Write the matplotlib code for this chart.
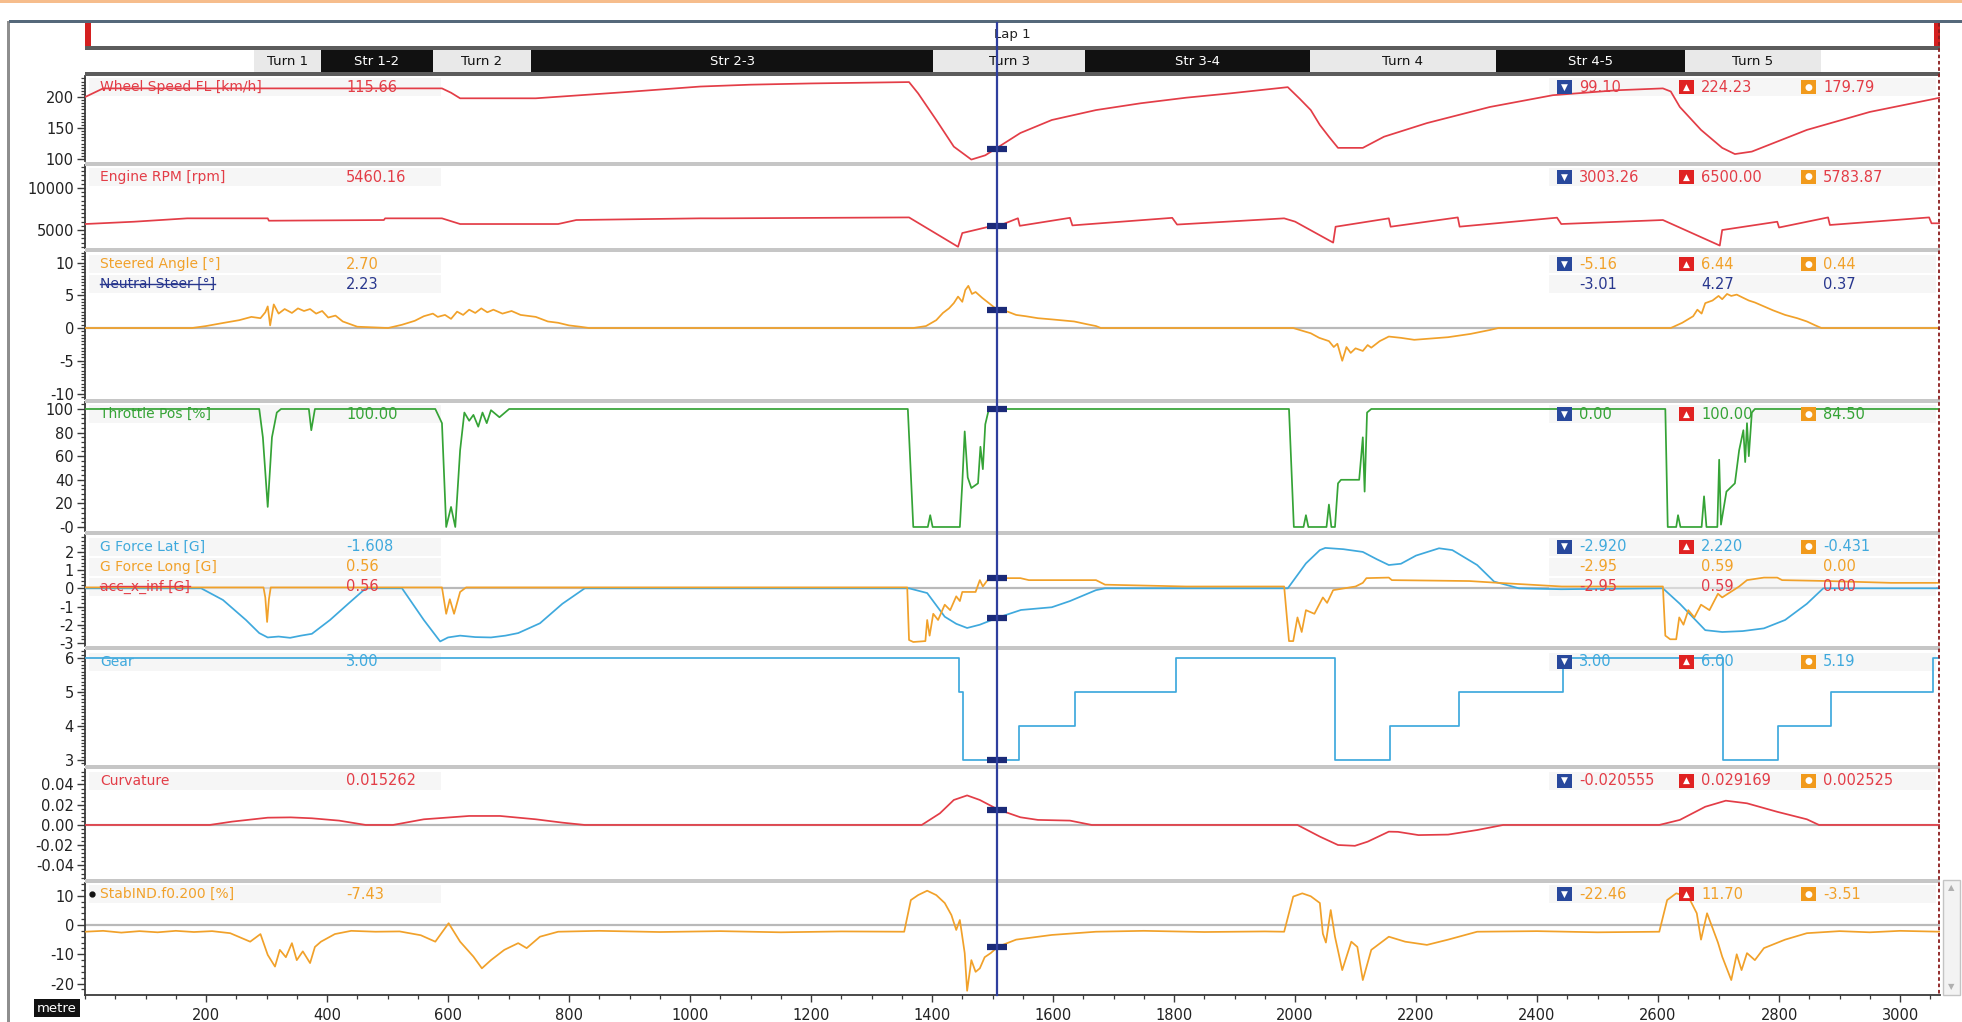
import matplotlib
matplotlib.use("Agg")
import matplotlib.pyplot as plt
import matplotlib.transforms as mtransforms
from matplotlib.patches import Rectangle
from matplotlib.lines import Line2D
from matplotlib.ticker import AutoMinorLocator, MultipleLocator

plt.rcParams['font.family'] = ['DejaVu Sans']
plt.rcParams['axes.unicode_minus'] = False

# ------------------------------------------------------------------ data
dist_range = [0, 3066]
cursor_dist = 1508
lap_name = "Lap 1"

segment_names = ["Turn 1", "Str 1-2", "Turn 2", "Str 2-3", "Turn 3", "Str 3-4", "Turn 4", "Str 4-5", "Turn 5"]
segment_start = [279, 390, 575, 737, 1402, 1653, 2024, 2332, 2645]
segment_end = [390, 575, 737, 1402, 1653, 2024, 2332, 2645, 2869]
segment_is_straight = [False, True, False, True, False, True, False, True, False]

speed_x = [0, 30, 590, 605, 620, 745, 893, 1017, 1100, 1200, 1362, 1377, 1407, 1436, 1465, 1488, 1509,
           1546, 1598, 1671, 1745, 1820, 1893, 1988, 2008, 2026, 2041, 2056, 2071, 2112, 2147, 2218, 2322,
           2426, 2532, 2608, 2621, 2636, 2671, 2706, 2727, 2755, 2846, 2950, 3066]
speed_y = [200, 214, 214, 207, 198, 198, 208, 217, 220, 222, 224.2, 206, 163, 120, 99.1, 106, 119,
           142, 163, 179, 190, 199, 206, 216, 197, 179, 155, 136, 118, 118, 136, 158, 184,
           203, 211, 214, 209, 184, 147, 118, 108, 112, 147, 176, 199]

rpm_x = [0, 81, 169, 302, 304, 494, 496, 590, 620, 782, 812, 1017, 1051, 1362, 1443, 1450, 1494, 1509,
         1542, 1545, 1628, 1632, 1797, 1805, 1982, 2000, 2063, 2067, 2155, 2158, 2269, 2272, 2433, 2440,
         2608, 2702, 2706, 2797, 2800, 2881, 2884, 3048, 3052, 3066]
rpm_y = [5714, 5988, 6390, 6390, 6107, 6190, 6390, 6390, 5714, 5714, 6190, 6390, 6390, 6500, 3003, 4640, 5393, 5460,
         6400, 5500, 6450, 5550, 6450, 5650, 6390, 6000, 3500, 5393, 6390, 5393, 6500, 5400, 6470, 5714,
         6190, 3150, 5000, 5988, 5300, 6500, 5600, 6500, 5800, 5800]

steer_x = [0, 177, 200, 230, 255, 275, 290, 298, 302, 306, 312, 320, 330, 342, 352, 362, 372, 382, 392,
           402, 414, 426, 438, 450, 501, 524, 545, 560, 575, 583, 595, 605, 615, 625, 635, 645, 655, 665,
           675, 690, 705, 720, 745, 765, 782, 800, 818, 833,
           1369, 1390, 1407, 1418, 1428, 1436, 1443, 1450, 1455, 1460, 1466, 1472, 1483, 1494, 1509,
           1525, 1539, 1555, 1575, 1600, 1635, 1655, 1671, 1679,
           1997, 2015, 2026, 2040, 2056, 2064, 2070, 2078, 2085, 2092, 2100, 2112, 2120, 2126, 2140,
           2155, 2175, 2197, 2225, 2253, 2290, 2322, 2336,
           2621, 2640, 2658, 2665, 2672, 2678, 2690, 2700, 2706, 2714, 2721, 2730, 2741, 2750, 2760,
           2775, 2790, 2810, 2830, 2846, 2860, 2870, 3066]
steer_y = [0, 0, 0.3, 0.8, 1.2, 1.7, 1.5, 2.4, 3.3, 0.4, 3.6, 2.2, 2.9, 2.3, 3.0, 2.6, 2.9, 2.2, 2.6,
           1.6, 1.9, 1.0, 0.6, 0.2, 0, 0.5, 1.1, 1.8, 2.2, 1.7, 2.0, 1.4, 2.5, 2.0, 2.8, 2.3, 3.0, 2.4,
           2.8, 2.2, 2.6, 2.0, 1.7, 1.0, 0.8, 0.4, 0.2, 0,
           0, 0.3, 1.2, 2.3, 3.0, 3.8, 4.8, 4.0, 5.8, 6.44, 5.2, 5.5, 4.6, 3.8, 2.7,
           2.5, 2.0, 1.8, 1.5, 1.3, 1.0, 0.6, 0.3, 0,
           0, -0.5, -0.8, -1.5, -2.0, -2.9, -2.4, -5.0, -2.9, -3.8, -3.1, -3.5, -2.6, -3.0, -2.0,
           -1.3, -1.5, -1.8, -1.6, -1.4, -0.9, -0.3, 0,
           0, 0.8, 1.8, 2.8, 2.2, 3.8, 4.2, 4.9, 4.4, 5.2, 4.9, 5.1, 4.6, 4.2, 3.9,
           3.3, 2.7, 2.0, 1.5, 1.0, 0.4, 0, 0]

throttle_x = [0, 288, 294, 302, 309, 317, 324, 370, 374, 380, 579, 590, 597, 605, 612, 620, 627, 635,
              642, 650, 657, 664, 671, 685, 701, 1360, 1369, 1393, 1397, 1401, 1446, 1450, 1454, 1459,
              1465, 1476, 1480, 1484, 1488, 1494, 1990, 1998, 2014, 2018, 2022, 2052, 2056, 2060, 2066,
              2071, 2076, 2106, 2112, 2115, 2119, 2126, 2612, 2616, 2630, 2633, 2637, 2672, 2676, 2680,
              2698, 2701, 2704, 2713, 2727, 2734, 2741, 2744, 2747, 2750, 2755, 2760, 3066]
throttle_y = [100, 100, 76, 17, 76, 97, 100, 100, 82, 100, 100, 88, 0, 17, 0, 65, 97, 90,
              95, 85, 97, 88, 99, 93, 100, 100, 0, 0, 10, 0, 0, 37, 81, 42,
              33, 37, 68, 49, 87, 100, 100, 0, 0, 10, 0, 0, 19, 0, 0,
              37, 40, 40, 76, 30, 97, 100, 100, 0, 0, 10, 0, 0, 26, 0,
              0, 57, 2, 30, 37, 65, 82, 55, 88, 60, 97, 100, 100]

glat_x = [0, 192, 228, 266, 288, 302, 320, 339, 357, 375, 405, 435, 464, 524, 560, 587, 600, 620, 645,
          671, 695, 716, 752, 789, 826, 1362, 1392, 1421, 1440, 1458, 1479, 1509, 1547, 1598, 1628, 1671,
          1686, 1988, 2018, 2041, 2050, 2080, 2112, 2135, 2155, 2175, 2200, 2238, 2260, 2301, 2329, 2370,
          2440, 2608, 2636, 2678, 2706, 2740, 2775, 2810, 2846, 2873, 3066]
glat_y = [0, 0, -0.64, -1.74, -2.46, -2.7, -2.65, -2.72, -2.6, -2.5, -1.74, -0.85, 0, 0, -1.74, -2.92, -2.7, -2.6, -2.68,
          -2.7, -2.6, -2.46, -1.92, -0.85, 0, 0, -0.26, -1.56, -1.95, -2.18, -2.0, -1.608, -1.19, -1.04, -0.7, -0.1,
          0, 0, 1.37, 2.1, 2.22, 2.15, 2.0, 1.6, 1.28, 1.35, 1.8, 2.2, 2.1, 1.28, 0.37, 0,
          -0.05, 0, -0.85, -2.3, -2.4, -2.35, -2.2, -1.74, -0.85, 0, 0]

glong_x = [0, 295, 298, 301, 304, 307, 590, 597, 603, 610, 620, 630, 1359, 1362, 1369, 1389, 1392, 1396,
           1402, 1410, 1421, 1430, 1440, 1446, 1450, 1472, 1479, 1484, 1494, 1546, 1560, 1671, 1686, 1820,
           1982, 1990, 1997, 2004, 2011, 2018, 2032, 2046, 2053, 2063, 2100, 2112, 2118, 2155, 2160, 2288,
           2336, 2441, 2608, 2612, 2620, 2630, 2635, 2642, 2650, 2660, 2671, 2685, 2699, 2706, 2734, 2747,
           2775, 2797, 2805, 2881, 2985, 3066]
glong_y = [0.05, 0.05, -0.5, -1.85, -0.6, 0.05, 0.05, -1.4, -0.6, -1.4, -0.2, 0.05, 0.05, -2.84, -2.95, -2.9, -1.74, -2.6,
           -1.4, -1.74, -0.9, -1.2, -0.44, -0.7, -0.2, -0.2, 0.45, 0.1, 0.56, 0.56, 0.45, 0.45, 0.2, 0.1,
           0.1, -2.9, -2.9, -1.6, -2.4, -1.2, -1.4, -0.5, -0.8, -0.1, 0.1, 0.3, 0.56, 0.59, 0.45, 0.4,
           0.3, 0.1, 0.1, -2.6, -2.8, -2.8, -1.6, -2.0, -1.2, -1.6, -0.9, -1.2, -0.3, -0.5, 0.1, 0.45,
           0.59, 0.59, 0.45, 0.4, 0.3, 0.3]

gear_x = [0, 1445, 1452, 1544, 1637, 1803, 2066, 2157, 2271, 2443, 2707, 2799, 2886, 3054, 3066]
gear_y = [6, 5, 3, 4, 5, 6, 3, 4, 5, 6, 3, 4, 5, 6, 6]

curv_x = [0, 206, 243, 302, 340, 375, 420, 464, 509, 560, 635, 686, 745, 789, 826, 1383, 1413, 1436, 1458,
          1479, 1509, 1546, 1575, 1628, 1664, 2004, 2041, 2071, 2099, 2120, 2155, 2170, 2204, 2253, 2301,
          2344, 2602, 2636, 2678, 2712, 2747, 2797, 2846, 2866, 3066]
curv_y = [0, 0, 0.0033, 0.0072, 0.0075, 0.0066, 0.0043, 0, 0, 0.0056, 0.0089, 0.0089, 0.0056, 0.0023, 0, 0, 0.0115, 0.0247, 0.0292,
          0.0247, 0.0153, 0.0076, 0.005, 0.0043, 0, 0, -0.0115, -0.0198, -0.0206, -0.0165, -0.0066, -0.0068, -0.01, -0.0095, -0.005,
          0, 0, 0.005, 0.018, 0.024, 0.0214, 0.013, 0.0056, 0, 0]

stab_x = [0, 30, 60, 90, 120, 150, 180, 210, 240, 273, 290, 302, 314, 322, 332, 342, 350, 360, 372, 380,
          390, 413, 440, 480, 520, 555, 579, 601, 620, 642, 656, 671, 693, 716, 730, 752, 782, 850, 950,
          1050, 1150, 1250, 1354, 1365, 1377, 1392, 1407, 1421, 1432, 1440, 1446, 1454, 1458, 1465, 1472,
          1479, 1487, 1497, 1509, 1539, 1598, 1671, 1750, 1850, 1950, 1982, 1997, 2012, 2026, 2041, 2046,
          2051, 2059, 2066, 2078, 2093, 2103, 2112, 2126, 2155, 2182, 2218, 2253, 2301, 2400, 2500, 2602,
          2615, 2630, 2650, 2664, 2671, 2681, 2699, 2706, 2721, 2730, 2738, 2747, 2760, 2775, 2810, 2846,
          2900, 2950, 3000, 3066]
stab_y = [-2.3, -2.0, -2.6, -2.1, -2.5, -2.0, -2.4, -2.1, -2.8, -5.7, -3.1, -10.2, -14.2, -8.5, -11, -6.2, -12, -9, -13, -7.5,
          -5.7, -3.1, -2.0, -2.3, -2.2, -3.5, -5.7, 0.6, -5.7, -10.8, -14.8, -12, -8.5, -6.2, -7.9, -4, -2.3, -2.0, -2.4,
          -2.1, -2.5, -2.2, -2.3, 8.5, 10.2, 11.7, 10.2, 7.5, 3.4, -1.7, 1.7, -9.6, -22.46, -12, -16,
          -14.8, -11, -9.6, -7.43, -5, -3.4, -2.3, -2.0, -2.4, -2.2, -2.3, 9.7, 10.8, 9.8, 7.5, -3,
          -6, 5.1, -4, -15.4, -5.7, -7.5, -18.8, -8.5, -4, -5.7, -6.8, -5, -2.3, -2.1, -2.5, -2.3,
          8.5, 10.8, 9.7, 4, -5, 4, -6, -10.8, -18.8, -10, -15.4, -9.6, -12, -7.9, -5, -2.8,
          -2.1, -2.5, -2.0, -2.3]

# channel labels (name, cursor value) and statistics (min, max, avg)
speed_label = ("Wheel Speed FL [km/h]", "115.66");   speed_stats = ("99.10", "224.23", "179.79")
rpm_label = ("Engine RPM [rpm]", "5460.16");         rpm_stats = ("3003.26", "6500.00", "5783.87")
steer_label = ("Steered Angle [°]", "2.70");         steer_stats = ("-5.16", "6.44", "0.44")
neutral_label = ("Neutral Steer [°]", "2.23");       neutral_stats = ("-3.01", "4.27", "0.37")
throttle_label = ("Throttle Pos [%]", "100.00");     throttle_stats = ("0.00", "100.00", "84.50")
glat_label = ("G Force Lat [G]", "-1.608");          glat_stats = ("-2.920", "2.220", "-0.431")
glong_label = ("G Force Long [G]", "0.56");          glong_stats = ("-2.95", "0.59", "0.00")
accx_label = ("acc_x_inf [G]", "0.56");              accx_stats = ("-2.95", "0.59", "0.00")
gear_label = ("Gear", "3.00");                       gear_stats = ("3.00", "6.00", "5.19")
curv_label = ("Curvature", "0.015262");              curv_stats = ("-0.020555", "0.029169", "0.002525")
stab_label = ("StabIND.f0.200 [%]", "-7.43");        stab_stats = ("-22.46", "11.70", "-3.51")

x_ticks = [200, 400, 600, 800, 1000, 1200, 1400, 1600, 1800, 2000, 2200, 2400, 2600, 2800, 3000]
x_unit = "metre"

# ------------------------------------------------------------------ style
W, H = 1962, 1022
RED = '#e33d47'
ORANGE = '#f1a12a'
GREEN = '#35a336'
BLUE = '#3fa9dd'
NAVY = '#28378e'
CURSOR = '#2f3f9e'
MARK = '#1b2a78'
SEP = '#c6c6c6'
AX_L, AX_R = 85, 1940

fig = plt.figure(figsize=(W / 100, H / 100), dpi=100)
fig.patch.set_facecolor('white')


def px_axes(left, top, right, bottom):
    return fig.add_axes([left / W, 1 - bottom / H, (right - left) / W, (bottom - top) / H])


def fig_rect(x0, y0, x1, y1, color, z=0):
    fig.patches.append(Rectangle((x0 / W, 1 - y1 / H), (x1 - x0) / W, (y1 - y0) / H,
                                 transform=fig.transFigure, fc=color, ec='none', zorder=z))


# window frame decorations
fig_rect(0, 0, W, 3, '#f6bd8c')
fig_rect(7, 21, 10, H, '#8e8e8e')
fig_rect(9, 20.5, W, 23, '#55687a')
fig_rect(AX_L, 46.5, AX_R, 50, '#5c5c5c')
fig_rect(AX_L, 72.5, AX_R, 76, '#5c5c5c')

# lap bar
ax_lap = px_axes(AX_L, 23, AX_R, 46.5)
ax_lap.set_xlim(dist_range)
ax_lap.set_ylim(0, 1)
ax_lap.axis('off')
ax_lap.text(0.5, 0.5, lap_name, transform=ax_lap.transAxes, ha='center', va='center', fontsize=9.5, color='#222222')
ax_lap.add_patch(Rectangle((0, 0), 6 / (AX_R - AX_L), 1, transform=ax_lap.transAxes, fc='#d42020', ec='none'))
ax_lap.add_patch(Rectangle((1 - 6 / (AX_R - AX_L), 0), 6 / (AX_R - AX_L), 1, transform=ax_lap.transAxes, fc='#d42020', ec='none'))

# segment bar
ax_seg = px_axes(AX_L, 50, AX_R, 72.5)
ax_seg.set_xlim(dist_range)
ax_seg.set_ylim(0, 1)
ax_seg.axis('off')
for name, s, e, st in zip(segment_names, segment_start, segment_end, segment_is_straight):
    ax_seg.barh(0.5, e - s, left=s, height=1.0, color='#111111' if st else '#e9e9e9', edgecolor='none')
    ax_seg.text((s + e) / 2, 0.47, name, ha='center', va='center', fontsize=9.5,
                color='white' if st else '#111111')

# panels
panel_px = [(76, 161.5), (165.5, 248.5), (252.5, 398.5), (402.5, 531), (535, 646), (650, 765), (769, 878.5), (882.5, 995)]
for (t0, b0), (t1, b1) in zip(panel_px[:-1], panel_px[1:]):
    fig_rect(AX_L, b0, AX_R, t1, SEP)

panel_cfg = [
    dict(ylim=(96, 234), ticks=[100, 150, 200], labels=None, minor=10),
    dict(ylim=(2800, 12680), ticks=[5000, 10000], labels=None, minor=10),
    dict(ylim=(-10.76, 11.53), ticks=[-10, -5, 0, 5, 10], labels=None, minor=10),
    dict(ylim=(-3.4, 105.5), ticks=[0, 20, 40, 60, 80, 100], labels=['-0', '20', '40', '60', '80', '100'], minor=5),
    dict(ylim=(-3.17, 2.93), ticks=[-3, -2, -1, 0, 1, 2], labels=None, minor=5),
    dict(ylim=(2.853, 6.235), ticks=[3, 4, 5, 6], labels=None, minor=10),
    dict(ylim=(-0.0529, 0.0553), ticks=[-0.04, -0.02, 0.0, 0.02, 0.04],
         labels=['-0.04', '-0.02', '0.00', '0.02', '0.04'], minor=5),
    dict(ylim=(-23.9, 14.5), ticks=[-20, -10, 0, 10], labels=None, minor=5),
]

axes = []
for i, ((top, bot), cfg) in enumerate(zip(panel_px, panel_cfg)):
    ax = px_axes(AX_L, top, AX_R, bot)
    ax.set_xlim(dist_range)
    ax.set_ylim(cfg['ylim'])
    ax.set_yticks(cfg['ticks'])
    if cfg['labels'] is not None:
        ax.set_yticklabels(cfg['labels'])
    ax.yaxis.set_minor_locator(AutoMinorLocator(cfg['minor']))
    for sp in ['top', 'right', 'bottom']:
        ax.spines[sp].set_visible(False)
    ax.spines['left'].set_color('#3a3a3a')
    ax.spines['left'].set_linewidth(1.3)
    ax.tick_params(axis='y', which='major', direction='out', length=6, width=1.0, color='#3a3a3a',
                   labelsize=10.5, pad=2, labelcolor='#222222')
    ax.tick_params(axis='y', which='minor', direction='out', length=3, width=0.9, color='#3a3a3a')
    ax.tick_params(axis='x', which='both', bottom=False, labelbottom=False)
    ax.set_facecolor('white')
    axes.append(ax)

ax_sp, ax_rpm, ax_st, ax_thr, ax_g, ax_gear, ax_cu, ax_stab = axes

# bottom axis
ax_stab.spines['bottom'].set_visible(True)
ax_stab.spines['bottom'].set_color('#3a3a3a')
ax_stab.spines['bottom'].set_linewidth(1.3)
ax_stab.set_xticks(x_ticks)
ax_stab.set_xticklabels([str(v) for v in x_ticks])
ax_stab.xaxis.set_minor_locator(MultipleLocator(50))
ax_stab.tick_params(axis='x', which='major', bottom=True, labelbottom=True, direction='out', length=5,
                    width=1.0, color='#3a3a3a', labelsize=10.5, pad=4, labelcolor='#222222')
ax_stab.tick_params(axis='x', which='minor', bottom=True, direction='out', length=3, width=0.9, color='#3a3a3a')

# zero reference lines
for ax in (ax_st, ax_g, ax_cu, ax_stab):
    ax.axhline(0, color='#b9b9b9', lw=1.6, zorder=1)

LW = 1.25
ax_sp.plot(speed_x, speed_y, color=RED, lw=LW, zorder=3)
ax_rpm.plot(rpm_x, rpm_y, color=RED, lw=LW, zorder=3)
ax_st.plot(steer_x, steer_y, color=ORANGE, lw=LW, zorder=3)
ax_thr.plot(throttle_x, throttle_y, color=GREEN, lw=LW, zorder=3)
ax_g.plot(glat_x, glat_y, color=BLUE, lw=LW, zorder=3)
ax_g.plot(glong_x, glong_y, color=ORANGE, lw=LW, zorder=3)
ax_gear.plot(gear_x, gear_y, color=BLUE, lw=LW, drawstyle='steps-post', zorder=3)
ax_cu.plot(curv_x, curv_y, color=RED, lw=LW, zorder=3)
ax_stab.plot(stab_x, stab_y, color=ORANGE, lw=LW, zorder=3)

# cursor markers at the cursor values
cursor_marks = [(ax_sp, speed_label), (ax_rpm, rpm_label), (ax_st, steer_label), (ax_thr, throttle_label),
                (ax_g, glat_label), (ax_g, glong_label), (ax_gear, gear_label), (ax_cu, curv_label),
                (ax_stab, stab_label)]
for ax, lab in cursor_marks:
    ax.plot([cursor_dist], [float(lab[1])], marker='_', ms=15, mew=4.5, color=MARK, zorder=6)

# cursor line across all panels and the bars
blend = mtransforms.blended_transform_factory(ax_stab.transData, fig.transFigure)
fig.add_artist(Line2D([cursor_dist, cursor_dist], [1 - 23 / H, 1 - 995 / H], transform=blend,
                      color=CURSOR, lw=1.6, zorder=10))

# right boundary dashed line
fig.add_artist(Line2D([1938.5 / W, 1938.5 / W], [1 - 23 / H, 1 - 995 / H], transform=fig.transFigure,
                      color='#8a1c1c', lw=1.3, ls=(0, (2, 1.5)), zorder=10))

# labels and statistics rows
AXW = AX_R - AX_L
X_NAME = (100 - AX_L) / AXW
X_VAL = (346 - AX_L) / AXW
X_ICON = [(1557 - AX_L) / AXW, (1679 - AX_L) / AXW, (1801 - AX_L) / AXW]
X_STAT = [(1579 - AX_L) / AXW, (1701 - AX_L) / AXW, (1823 - AX_L) / AXW]
ICON_COL = ['#28489c', '#e02222', '#f19a1c']
ICON_SYM = ['▼', '▲', '●']

strike_texts = []


def add_rows(ax, top, bot, rows, icons=True, dot=False):
    h = bot - top
    for r, (lab, stats, color, strike) in enumerate(rows):
        yc = 1 - (11.5 + 20 * r) / h
        rh = 18 / h
        ax.add_patch(Rectangle((0.002, yc - rh / 2), 0.19, rh, transform=ax.transAxes, fc='#f0f0f0',
                               ec='none', alpha=0.55, zorder=1))
        ax.add_patch(Rectangle((0.789, yc - rh / 2), 0.209, rh, transform=ax.transAxes, fc='#f0f0f0',
                               ec='none', alpha=0.55, zorder=1))
        t = ax.text(X_NAME, yc, lab[0], transform=ax.transAxes, ha='left', va='center', fontsize=10,
                    color=color, zorder=4)
        if strike:
            strike_texts.append((t, color))
        ax.text(X_VAL, yc, lab[1], transform=ax.transAxes, ha='left', va='center', fontsize=10.5,
                color=color, zorder=4)
        for k in range(3):
            if icons and r == 0:
                iw, ih = 15 / AXW, 14 / h
                ax.add_patch(Rectangle((X_ICON[k], yc - ih / 2), iw, ih, transform=ax.transAxes,
                                       fc=ICON_COL[k], ec='none', zorder=5))
                ax.text(X_ICON[k] + iw / 2, yc, ICON_SYM[k], transform=ax.transAxes, ha='center',
                        va='center', fontsize=6.5, color='white', zorder=6)
            ax.text(X_STAT[k], yc, stats[k], transform=ax.transAxes, ha='left', va='center',
                    fontsize=10.5, color=color, zorder=4)
    if dot:
        ax.plot([(92 - AX_L) / AXW], [1 - 11.5 / h], marker='o', ms=3.5, color='#111111',
                transform=ax.transAxes, clip_on=False, zorder=6)


add_rows(ax_sp, *panel_px[0], [(speed_label, speed_stats, RED, False)])
add_rows(ax_rpm, *panel_px[1], [(rpm_label, rpm_stats, RED, False)])
add_rows(ax_st, *panel_px[2], [(steer_label, steer_stats, ORANGE, False),
                                (neutral_label, neutral_stats, NAVY, True)])
add_rows(ax_thr, *panel_px[3], [(throttle_label, throttle_stats, GREEN, False)])
add_rows(ax_g, *panel_px[4], [(glat_label, glat_stats, BLUE, False),
                               (glong_label, glong_stats, ORANGE, False),
                               (accx_label, accx_stats, RED, True)])
add_rows(ax_gear, *panel_px[5], [(gear_label, gear_stats, BLUE, False)])
add_rows(ax_cu, *panel_px[6], [(curv_label, curv_stats, RED, False)])
add_rows(ax_stab, *panel_px[7], [(stab_label, stab_stats, ORANGE, False)], dot=True)

# unit label and scrollbar
fig.text(57 / W, 1 - 1008 / H, x_unit, ha='center', va='center', fontsize=9.5, color='white',
         bbox=dict(boxstyle='square,pad=0.2', fc='#111111', ec='none'))
fig.patches.append(Rectangle((1943 / W, 1 - 995 / H), 17 / W, 115 / H, transform=fig.transFigure,
                             fc='#f3f3f3', ec='#c4c4c4', lw=1))
fig.text(1951.5 / W, 1 - 888 / H, '▲', ha='center', va='center', fontsize=6, color='#b0b0b0')
fig.text(1951.5 / W, 1 - 987 / H, '▼', ha='center', va='center', fontsize=6, color='#b0b0b0')

# strike-through for disabled channels
fig.canvas.draw()
renderer = fig.canvas.get_renderer()
for t, c in strike_texts:
    bb = t.get_window_extent(renderer)
    ym = (bb.y0 + bb.y1) / 2
    fig.add_artist(Line2D([bb.x0 / W, bb.x1 / W], [ym / H, ym / H], transform=fig.transFigure,
                          color=c, lw=1.0, zorder=10))

fig.savefig('out.png', dpi=100, facecolor='white')
